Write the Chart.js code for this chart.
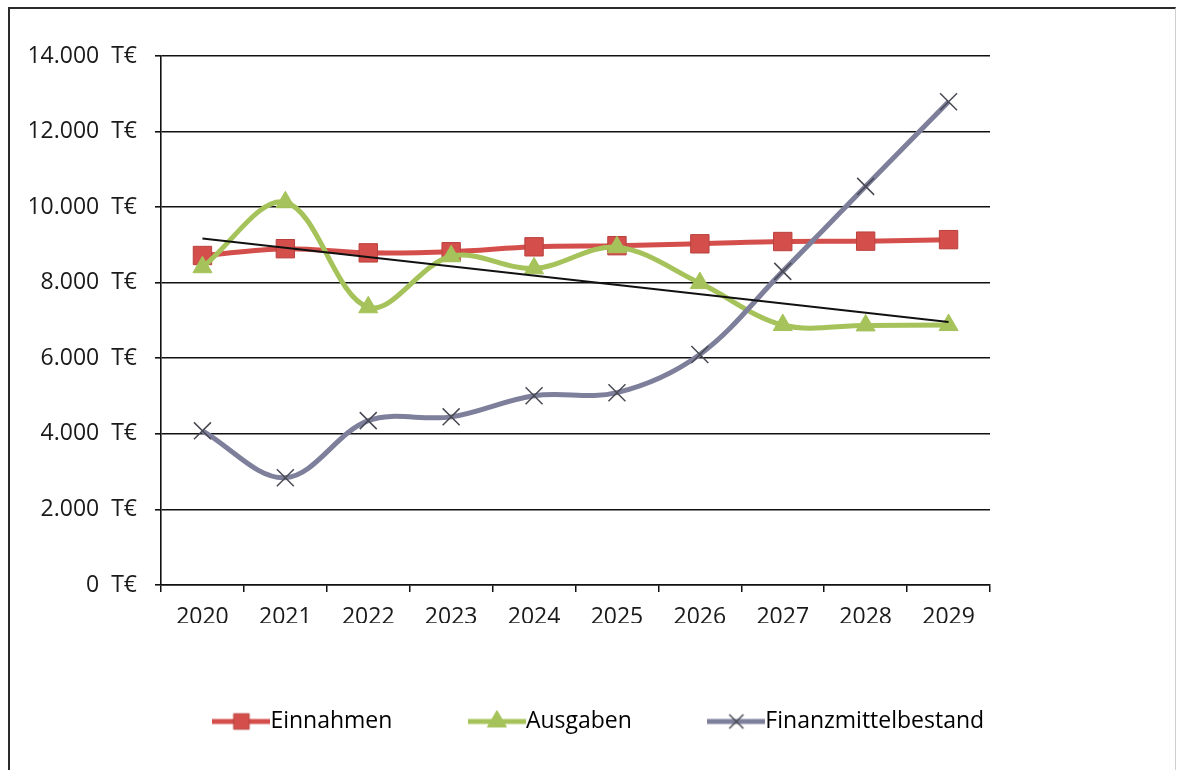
<!DOCTYPE html>
<html>
<head>
<meta charset="utf-8">
<script src="https://cdn.jsdelivr.net/npm/chart.js@4.4.1/dist/chart.umd.min.js"></script>
<style>
  body { margin: 0; background: #fff; }
  #wrap { position: relative; width: 1179px; height: 770px; overflow: hidden; }
  #frame { position: absolute; left: 8px; top: 7px; right: 3px; bottom: -5px;
           border-left: 2px solid #2b2b2b; border-top: 2px solid #2b2b2b; border-right: 1px solid #cfcfcf; }
</style>
</head>
<body>
<div id="wrap">
  <canvas id="chart" width="1179" height="770"></canvas>
  <div id="frame"></div>
</div>
<script>
const years = ['2020', '2021', '2022', '2023', '2024', '2025', '2026', '2027', '2028', '2029'];
const einnahmen = [8720, 8900, 8790, 8820, 8950, 8980, 9030, 9090, 9100, 9140];
const ausgaben = [8410, 10130, 7350, 8700, 8380, 8940, 7990, 6880, 6870, 6880];
const finanzmittel = [4080, 2840, 4350, 4450, 5010, 5090, 6100, 8300, 10550, 12790];
// linear trend of Ausgaben, only the end points
const trendAusgaben = [9170, null, null, null, null, null, null, null, null, 6960];
const yTicks = [0, 2000, 4000, 6000, 8000, 10000, 12000, 14000];

const red = '#d44f4b';
const green = '#a5c35a';
const grey = '#7d7f9b';
const font = 'Open Sans';

function fmt(v) {
  return String(v).replace(/\B(?=(\d{3})+(?!\d))/g, '.') + '  T€';
}

// little legend pictures: line with the marker in the middle
function legendIcon(color, style, markerColor) {
  const c = document.createElement('canvas');
  c.width = 58; c.height = 24;
  const g = c.getContext('2d');
  g.strokeStyle = color;
  g.lineWidth = 5;
  g.beginPath(); g.moveTo(0, 12); g.lineTo(58, 12); g.stroke();
  g.fillStyle = color;
  g.strokeStyle = markerColor;
  g.lineWidth = style === 'crossRot' ? 1.5 : 1;
  Chart.helpers.drawPoint(g, { pointStyle: style, radius: style === 'crossRot' ? 10 : 11, borderWidth: g.lineWidth }, 29, 12);
  return c;
}

const ctx = document.getElementById('chart');

const chart = new Chart(ctx, {
  type: 'line',
  data: {
    labels: years,
    datasets: [
      {
        label: 'Einnahmen',
        data: einnahmen,
        borderColor: red,
        backgroundColor: red,
        pointBorderColor: '#b8413d',
        borderWidth: 5,
        pointStyle: 'rect',
        pointRadius: 13,
        pointBorderWidth: 1,
        tension: 0.35,
        order: 3
      },
      {
        label: 'Ausgaben',
        data: ausgaben,
        borderColor: green,
        backgroundColor: green,
        pointBorderColor: green,
        borderWidth: 5,
        pointStyle: 'triangle',
        pointRadius: 11,
        pointBorderWidth: 1,
        tension: 0.35,
        order: 2
      },
      {
        label: 'Finanzmittelbestand',
        data: finanzmittel,
        borderColor: grey,
        backgroundColor: grey,
        pointBorderColor: '#4a4a55',
        borderWidth: 5,
        pointStyle: 'crossRot',
        pointRadius: 12,
        pointBorderWidth: 1.5,
        tension: 0.35,
        order: 1
      },
      {
        label: 'trend',
        data: trendAusgaben,
        borderColor: '#111',
        borderWidth: 1.8,
        pointRadius: 0,
        spanGaps: true,
        tension: 0,
        order: 0
      }
    ]
  },
  options: {
    responsive: false,
    animation: false,
    events: [],
    layout: { padding: { left: 30, right: 1, top: 56, bottom: 27 } },
    plugins: {
      tooltip: { enabled: false },
      legend: {
        position: 'bottom',
        labels: {
          usePointStyle: true,
          pointStyleWidth: 35,
          padding: 87,
          color: '#1a1a1a',
          font: { family: font, size: 23 },
          generateLabels: () => [
            { text: 'Einnahmen', pointStyle: legendIcon(red, 'rect', '#b8413d'), datasetIndex: 0, lineWidth: 0, fillStyle: red, strokeStyle: red },
            { text: 'Ausgaben', pointStyle: legendIcon(green, 'triangle', green), datasetIndex: 1, lineWidth: 0, fillStyle: green, strokeStyle: green },
            { text: 'Finanzmittelbestand', pointStyle: legendIcon(grey, 'crossRot', '#4a4a55'), datasetIndex: 2, lineWidth: 0, fillStyle: grey, strokeStyle: '#4a4a55' }
          ]
        }
      }
    },
    scales: {
      x: {
        offset: true,
        clip: false,
        grid: { offset: true, drawOnChartArea: false, color: '#111', lineWidth: 1.5, tickLength: 7 },
        border: { color: '#111', width: 1.5 },
        ticks: { color: '#1a1a1a', font: { family: font, size: 23 }, padding: 12, maxRotation: 0 },
        afterFit: (s) => { s.height = 38; }
      },
      y: {
        min: 0,
        max: 14000,
        afterBuildTicks: (s) => { s.ticks = yTicks.map(v => ({ value: v })); },
        grid: { color: '#111', lineWidth: 1.6, tickLength: 6 },
        border: { color: '#111', width: 1.6 },
        ticks: { color: '#1a1a1a', font: { family: font, size: 23 }, padding: 18, callback: (v) => fmt(v) },
        afterFit: (s) => { s.width = 131; }
      },
      y2: {
        position: 'right',
        grid: { display: false },
        border: { display: false },
        ticks: { display: false },
        afterFit: (s) => { s.width = 188; }
      }
    }
  }
});
</script>
</body>
</html>
